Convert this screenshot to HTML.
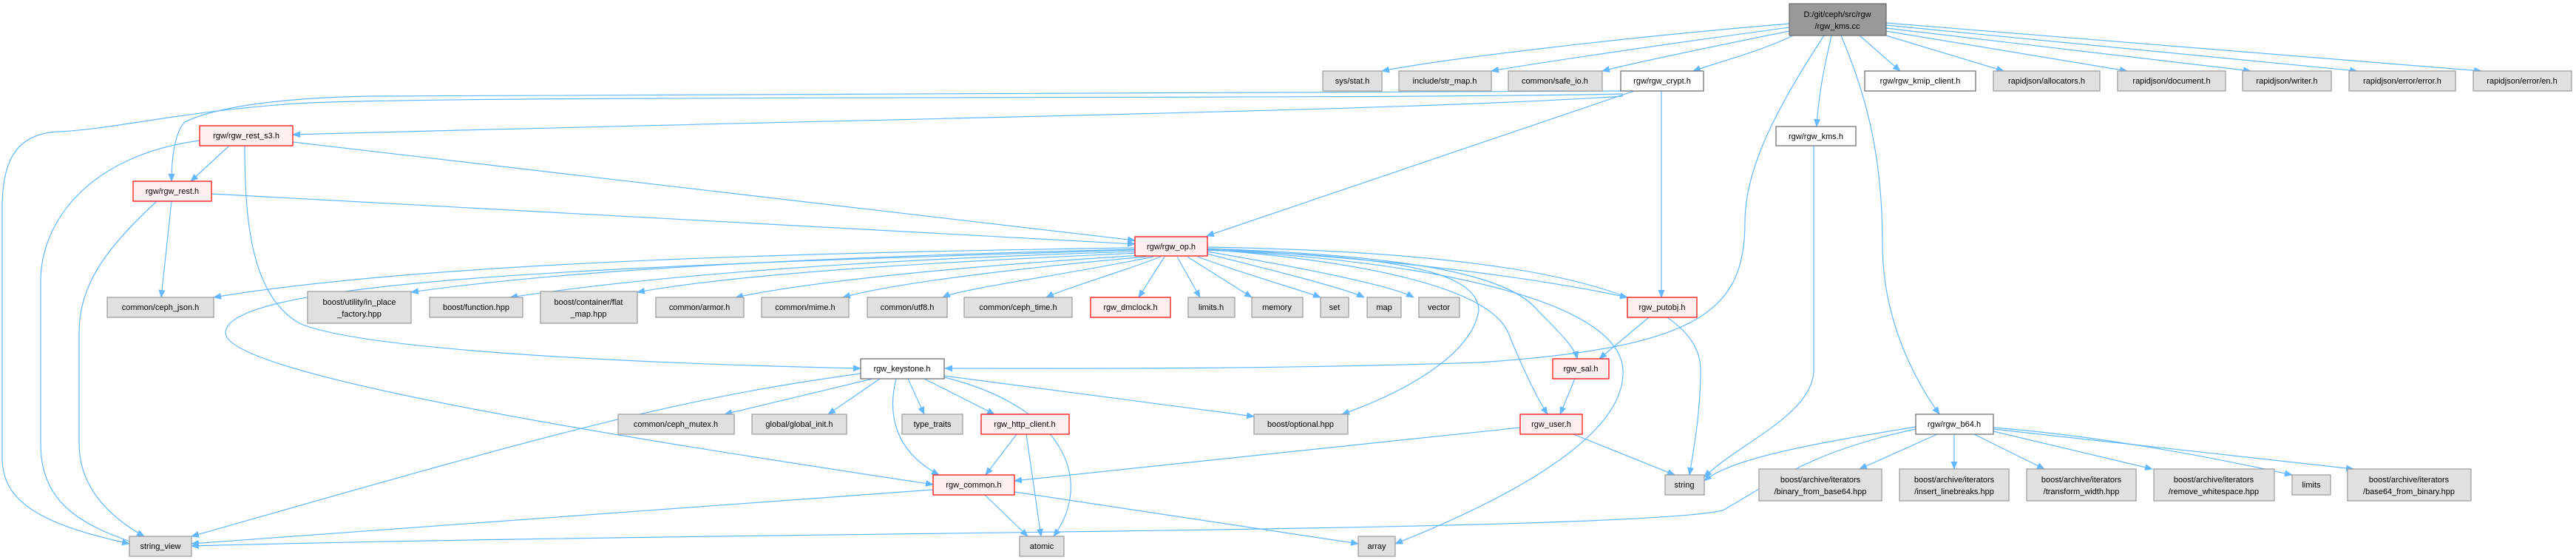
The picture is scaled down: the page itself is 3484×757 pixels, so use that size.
<!DOCTYPE html>
<html><head><meta charset="utf-8">
<style>
html,body{margin:0;padding:0;background:#fff;}
svg{display:block;}
text{font-family:"Liberation Sans",sans-serif;font-size:11px;fill:#000;}
.g{fill:#e0e0e0;stroke:#999;stroke-width:1.2}
.w{fill:#fff;stroke:#666;stroke-width:1.2}
.r{fill:#fff0f0;stroke:#ff0000;stroke-width:1.2}
.root{fill:#999;stroke:#666;stroke-width:1.2}
.e{fill:none;stroke:#63b8ff;stroke-width:1.2;marker-end:url(#a)}
</style></head><body>
<svg width="3484" height="757" viewBox="0 0 3484 757" xmlns="http://www.w3.org/2000/svg">
<defs><marker id="a" markerWidth="11" markerHeight="9" refX="10" refY="4.5" orient="auto" markerUnits="userSpaceOnUse"><path d="M0,0 L11,4.5 L0,9z" fill="#63b8ff"/></marker></defs>
<g>
<!-- root edges -->
<path class="e" d="M2420,32 C2200,50 1950,80 1869,96"/>
<path class="e" d="M2420,37 C2250,60 2080,85 2017,96"/>
<path class="e" d="M2420,42 C2330,60 2210,85 2167,96"/>
<path class="e" d="M2425,48 C2380,70 2320,85 2290,96"/>
<path class="e" d="M2515,48 L2570,96"/>
<path class="e" d="M2551,48 L2710,96"/>
<path class="e" d="M2551,42 L2877,96"/>
<path class="e" d="M2551,38 L3044,96"/>
<path class="e" d="M2551,34 L3188,96"/>
<path class="e" d="M2551,31 L3356,96"/>
<path class="e" d="M2477,48 C2470,80 2460,120 2457,171"/>
<path class="e" d="M2490,48 C2520,120 2546,200 2546,330 C2546,420 2580,500 2623,560"/>
<path class="e" d="M2467,48 C2400,150 2360,230 2360,300 C2360,420 2300,470 2000,490 C1700,500 1400,498 1278,498"/>
<!-- crypt -->
<path class="e" d="M2195,123 C1900,128 800,125 500,130 C350,133 280,150 250,165 C235,180 232,220 232,245"/>
<path class="e" d="M2195,127 C1800,135 600,128 400,140 C250,150 150,175 80,178 C20,180 3,220 3,280 L3,620 C3,680 60,710 175,735"/>
<path class="e" d="M2195,130 C1900,150 1200,160 396,182"/>
<path class="e" d="M2210,123 L1632,319"/>
<path class="e" d="M2247,123 L2247,402"/>
<!-- rest_s3 -->
<path class="e" d="M310,197 L258,245"/>
<path class="e" d="M270,190 C120,210 55,300 55,380 L55,600 C55,680 110,710 185,735"/>
<path class="e" d="M331,197 C331,300 340,400 405,437 C480,470 800,490 1164,498"/>
<path class="e" d="M396,192 L1535,325"/>
<!-- rest -->
<path class="e" d="M286,262 L1535,330"/>
<path class="e" d="M232,272 L218,402"/>
<path class="e" d="M212,272 C150,330 107,380 107,450 L107,600 C107,660 150,700 195,725"/>
<!-- op -->
<path class="e" d="M1535,335 C1200,340 600,350 289,402"/>
<path class="e" d="M1535,337 C1200,345 800,360 556,395"/>
<path class="e" d="M1540,340 C1200,350 900,370 690,402"/>
<path class="e" d="M1540,342 C1250,355 1000,370 862,395"/>
<path class="e" d="M1545,345 C1300,360 1100,380 995,402"/>
<path class="e" d="M1550,347 C1350,365 1200,385 1140,402"/>
<path class="e" d="M1560,347 C1450,370 1300,390 1275,402"/>
<path class="e" d="M1570,347 C1510,370 1440,390 1415,402"/>
<path class="e" d="M1575,347 L1540,402"/>
<path class="e" d="M1592,347 L1623,402"/>
<path class="e" d="M1606,347 L1693,402"/>
<path class="e" d="M1620,347 C1680,370 1760,392 1786,402"/>
<path class="e" d="M1632,343 C1720,365 1820,390 1845,402"/>
<path class="e" d="M1632,340 C1750,360 1880,385 1912,402"/>
<path class="e" d="M1632,338 C1850,345 2000,360 2000,420 C1990,480 1900,530 1815,560"/>
<path class="e" d="M1632,336 C1900,350 2100,380 2201,402"/>
<path class="e" d="M1632,336 C1900,345 2040,370 2080,420 C2110,450 2130,470 2133,485"/>
<path class="e" d="M1632,337 C1800,350 2010,380 2040,450 C2060,500 2080,540 2093,560"/>
<path class="e" d="M1632,338 C1900,350 2190,400 2195,500 C2200,600 2000,690 1887,735"/>
<path class="e" d="M1632,334 C2000,340 2300,380 2300,500 C2300,560 2290,610 2285,642"/>
<path class="e" d="M1535,338 C800,360 305,380 305,450 C305,510 900,600 1262,655"/>
<!-- keystone -->
<path class="e" d="M1164,505 C900,540 700,600 259,725"/>
<path class="e" d="M1180,512 L980,560"/>
<path class="e" d="M1190,512 L1120,560"/>
<path class="e" d="M1228,512 L1250,560"/>
<path class="e" d="M1250,512 L1345,560"/>
<path class="e" d="M1212,512 C1200,560 1210,610 1270,642"/>
<path class="e" d="M1277,510 C1440,550 1480,650 1425,725"/>
<path class="e" d="M1277,508 L1696,563"/>
<!-- misc -->
<path class="e" d="M1375,587 L1333,642"/>
<path class="e" d="M1388,587 L1408,725"/>
<path class="e" d="M2230,429 L2163,485"/>
<path class="e" d="M2130,512 L2110,560"/>
<path class="e" d="M2056,578 L1372,650"/>
<path class="e" d="M2128,587 L2265,642"/>
<path class="e" d="M1262,662 L259,735"/>
<path class="e" d="M1332,669 L1390,725"/>
<path class="e" d="M1372,665 L1837,735"/>
<path class="e" d="M2453,197 L2453,500 C2453,560 2350,600 2305,645"/>
<path class="e" d="M2591,577 C2450,600 2340,620 2305,650"/>
<path class="e" d="M2591,580 C2450,610 2400,650 2330,690 C2200,720 1000,718 259,738"/>
<path class="e" d="M2620,587 L2515,634"/>
<path class="e" d="M2643,587 L2643,634"/>
<path class="e" d="M2670,587 L2765,634"/>
<path class="e" d="M2696,583 L2911,634"/>
<path class="e" d="M2696,578 C2850,590 3000,620 3100,642"/>
<path class="e" d="M2696,580 L3183,634"/>
</g>
<g text-anchor="middle">
<rect class="root" x="2420" y="5" width="131" height="43"/><text x="2485" y="23">D:/git/ceph/src/rgw</text><text x="2485" y="39">/rgw_kms.cc</text>
<rect class="w" x="2522" y="96" width="150" height="27"/><text x="2597" y="113">rgw/rgw_kmip_client.h</text>
<rect class="g" x="2696" y="96" width="144" height="27"/><text x="2768" y="113">rapidjson/allocators.h</text>
<rect class="g" x="2864" y="96" width="146" height="27"/><text x="2937" y="113">rapidjson/document.h</text>
<rect class="g" x="3033" y="96" width="120" height="27"/><text x="3093" y="113">rapidjson/writer.h</text>
<rect class="g" x="3177" y="96" width="144" height="27"/><text x="3249" y="113">rapidjson/error/error.h</text>
<rect class="g" x="3345" y="96" width="133" height="27"/><text x="3411" y="113">rapidjson/error/en.h</text>
<rect class="g" x="1789" y="96" width="80" height="27"/><text x="1829" y="113">sys/stat.h</text>
<rect class="g" x="1892" y="96" width="125" height="27"/><text x="1954" y="113">include/str_map.h</text>
<rect class="g" x="2040" y="96" width="127" height="27"/><text x="2103" y="113">common/safe_io.h</text>
<rect class="w" x="2192" y="96" width="112" height="27"/><text x="2248" y="113">rgw/rgw_crypt.h</text>
<rect class="w" x="2402" y="171" width="108" height="26"/><text x="2456" y="188">rgw/rgw_kms.h</text>
<rect class="r" x="270" y="170" width="126" height="27"/><text x="333" y="187">rgw/rgw_rest_s3.h</text>
<rect class="r" x="180" y="245" width="106" height="27"/><text x="233" y="262">rgw/rgw_rest.h</text>
<rect class="r" x="1535" y="320" width="98" height="26"/><text x="1584" y="337">rgw/rgw_op.h</text>
<rect class="g" x="145" y="402" width="144" height="27"/><text x="217" y="419">common/ceph_json.h</text>
<rect class="g" x="416" y="394" width="140" height="43"/><text x="486" y="412">boost/utility/in_place</text><text x="486" y="428">_factory.hpp</text>
<rect class="g" x="581" y="402" width="126" height="27"/><text x="644" y="419">boost/function.hpp</text>
<rect class="g" x="731" y="394" width="131" height="43"/><text x="796" y="412">boost/container/flat</text><text x="796" y="428">_map.hpp</text>
<rect class="g" x="887" y="402" width="119" height="27"/><text x="946" y="419">common/armor.h</text>
<rect class="g" x="1030" y="402" width="118" height="27"/><text x="1089" y="419">common/mime.h</text>
<rect class="g" x="1173" y="402" width="108" height="27"/><text x="1227" y="419">common/utf8.h</text>
<rect class="g" x="1304" y="402" width="146" height="27"/><text x="1377" y="419">common/ceph_time.h</text>
<rect class="r" x="1475" y="402" width="108" height="27"/><text x="1529" y="419">rgw_dmclock.h</text>
<rect class="g" x="1607" y="402" width="63" height="27"/><text x="1638" y="419">limits.h</text>
<rect class="g" x="1693" y="402" width="69" height="27"/><text x="1727" y="419">memory</text>
<rect class="g" x="1786" y="402" width="38" height="27"/><text x="1805" y="419">set</text>
<rect class="g" x="1849" y="402" width="46" height="27"/><text x="1872" y="419">map</text>
<rect class="g" x="1919" y="402" width="55" height="27"/><text x="1946" y="419">vector</text>
<rect class="r" x="2201" y="402" width="94" height="27"/><text x="2248" y="419">rgw_putobj.h</text>
<rect class="w" x="1164" y="485" width="113" height="27"/><text x="1220" y="502">rgw_keystone.h</text>
<rect class="r" x="2100" y="485" width="76" height="27"/><text x="2138" y="502">rgw_sal.h</text>
<rect class="g" x="836" y="560" width="157" height="27"/><text x="914" y="577">common/ceph_mutex.h</text>
<rect class="g" x="1017" y="560" width="128" height="27"/><text x="1081" y="577">global/global_init.h</text>
<rect class="g" x="1220" y="560" width="82" height="27"/><text x="1261" y="577">type_traits</text>
<rect class="r" x="1327" y="560" width="119" height="27"/><text x="1386" y="577">rgw_http_client.h</text>
<rect class="g" x="1696" y="560" width="127" height="27"/><text x="1759" y="577">boost/optional.hpp</text>
<rect class="r" x="2056" y="560" width="84" height="27"/><text x="2098" y="577">rgw_user.h</text>
<rect class="w" x="2591" y="560" width="105" height="27"/><text x="2643" y="577">rgw/rgw_b64.h</text>
<rect class="r" x="1262" y="642" width="110" height="27"/><text x="1317" y="659">rgw_common.h</text>
<rect class="g" x="2252" y="642" width="53" height="27"/><text x="2278" y="659">string</text>
<rect class="g" x="2379" y="634" width="166" height="43"/><text x="2462" y="652">boost/archive/iterators</text><text x="2462" y="668">/binary_from_base64.hpp</text>
<rect class="g" x="2569" y="634" width="148" height="43"/><text x="2643" y="652">boost/archive/iterators</text><text x="2643" y="668">/insert_linebreaks.hpp</text>
<rect class="g" x="2741" y="634" width="148" height="43"/><text x="2815" y="652">boost/archive/iterators</text><text x="2815" y="668">/transform_width.hpp</text>
<rect class="g" x="2913" y="634" width="163" height="43"/><text x="2994" y="652">boost/archive/iterators</text><text x="2994" y="668">/remove_whitespace.hpp</text>
<rect class="g" x="3100" y="642" width="52" height="27"/><text x="3126" y="659">limits</text>
<rect class="g" x="3175" y="634" width="167" height="43"/><text x="3258" y="652">boost/archive/iterators</text><text x="3258" y="668">/base64_from_binary.hpp</text>
<rect class="g" x="175" y="725" width="84" height="27"/><text x="217" y="742">string_view</text>
<rect class="g" x="1379" y="725" width="60" height="27"/><text x="1409" y="742">atomic</text>
<rect class="g" x="1837" y="725" width="50" height="27"/><text x="1862" y="742">array</text>
</g>
</svg>
</body></html>
